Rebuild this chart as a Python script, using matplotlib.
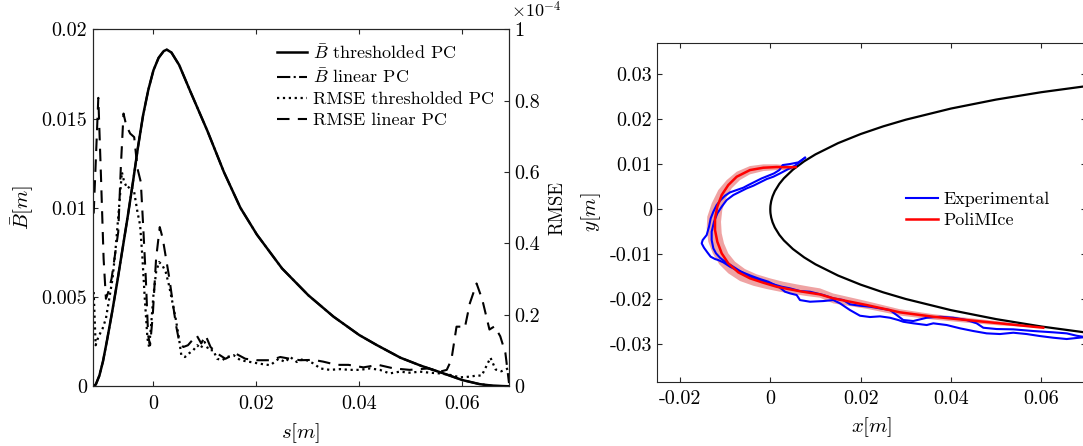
import numpy as np
import matplotlib
matplotlib.use("Agg")
import matplotlib.pyplot as plt

plt.rcParams['font.family'] = 'serif'
plt.rcParams['font.serif'] = ['cmr10']
plt.rcParams['mathtext.fontset'] = 'cm'
plt.rcParams['axes.unicode_minus'] = False
plt.rcParams['axes.formatter.use_mathtext'] = True
plt.rcParams['font.size'] = 14.5

# ---------------- left panel data ----------------
# mean ice thickness B-bar [m] along curvilinear abscissa s [m]
s_b = [-0.0118, -0.0112, -0.0105, -0.0098, -0.009, -0.008, -0.007, -0.006, -0.005,
       -0.004, -0.003, -0.002, -0.001, 0.0, 0.001, 0.002, 0.0026, 0.0035, 0.005,
       0.0072, 0.0105, 0.0137, 0.0169, 0.0201, 0.025, 0.0301, 0.035, 0.040, 0.0434,
       0.048, 0.052, 0.0563, 0.060, 0.0634, 0.066, 0.0691]
b_thresh = [0.0, 0.0001, 0.0006, 0.0014, 0.0026, 0.0042, 0.0059, 0.0077, 0.0095,
            0.0114, 0.0134, 0.0152, 0.0166, 0.0177, 0.0184, 0.01878, 0.01886, 0.0187,
            0.0180, 0.0165, 0.0143, 0.0120, 0.0100, 0.0085, 0.0066, 0.0051, 0.0039,
            0.00287, 0.00231, 0.0016, 0.00115, 0.00073, 0.00035, 0.00012, 0.00003, 0.0]
# linear PC mean lies on top of the thresholded one
b_linear = [0.0, 0.0001, 0.0006, 0.0014, 0.0026, 0.0042, 0.0059, 0.0077, 0.0095,
            0.0114, 0.0134, 0.0152, 0.0166, 0.0177, 0.0184, 0.01878, 0.01886, 0.0187,
            0.0180, 0.0165, 0.0143, 0.0120, 0.0100, 0.0085, 0.0066, 0.0051, 0.0039,
            0.00287, 0.00231, 0.0016, 0.00115, 0.00073, 0.00035, 0.00012, 0.00003, 0.0]

# RMSE, in units of 1e-4
s_rl = [-0.01161, -0.01071, -0.0102, -0.00968, -0.00923, -0.00877, -0.00813, -0.00748,
        -0.00684, -0.00632, -0.00581, -0.00529, -0.00452, -0.00374, -0.0031, -0.00245,
        -0.002, -0.00148, -0.00103, -0.00065, -0.00013, 0.00052, 0.00123, 0.00181,
        0.00245, 0.0031, 0.00374, 0.00439, 0.00503, 0.00581, 0.00671, 0.00755, 0.00839,
        0.00929, 0.01013, 0.0111, 0.01239, 0.014, 0.01594, 0.01787, 0.02013, 0.02271,
        0.02465, 0.02658, 0.02852, 0.0311, 0.033, 0.0356, 0.0379, 0.0408, 0.0437,
        0.0467, 0.0498, 0.0534, 0.0557, 0.057, 0.0579, 0.0589, 0.0599, 0.0605, 0.0615,
        0.0628, 0.0639, 0.0653, 0.0663, 0.0674, 0.0684, 0.0691]
rmse_lin = [0.484, 0.808, 0.591, 0.357, 0.245, 0.264, 0.302, 0.367, 0.432, 0.619, 0.764,
            0.731, 0.708, 0.698, 0.61, 0.572, 0.451, 0.302, 0.143, 0.115, 0.199, 0.358,
            0.446, 0.414, 0.358, 0.302, 0.236, 0.171, 0.124, 0.110, 0.115, 0.129, 0.143,
            0.12, 0.143, 0.110, 0.092, 0.077, 0.092, 0.077, 0.073, 0.073, 0.082, 0.077,
            0.073, 0.074, 0.069, 0.060, 0.060, 0.053, 0.060, 0.050, 0.046, 0.050, 0.041,
            0.046, 0.074, 0.167, 0.167, 0.163, 0.233, 0.288, 0.243, 0.159, 0.168, 0.14,
            0.093, 0.009]

s_rt = [-0.01161, -0.01123, -0.01071, -0.00987, -0.00923, -0.00858, -0.00794, -0.00729,
        -0.00665, -0.00613, -0.00568, -0.00503, -0.00439, -0.00374, -0.0031, -0.00258,
        -0.00213, -0.00168, -0.00116, -0.00084, -0.00045, 0.0, 0.00052, 0.0011, 0.00174,
        0.00239, 0.00303, 0.00368, 0.00432, 0.00497, 0.00542, 0.00613, 0.0069, 0.00774,
        0.00852, 0.00916, 0.00994, 0.01077, 0.01161, 0.01239, 0.01335, 0.01432, 0.01561,
        0.0169, 0.01884, 0.02077, 0.02271, 0.02432, 0.02561, 0.02658, 0.02787, 0.02916,
        0.0311, 0.0324, 0.0343, 0.0363, 0.0382, 0.0401, 0.0421, 0.044, 0.0459, 0.0479,
        0.0498, 0.0518, 0.0537, 0.0557, 0.0576, 0.0596, 0.0615, 0.0628, 0.0638, 0.0655,
        0.0665, 0.0676, 0.0691]
rmse_thr = [0.264, 0.115, 0.138, 0.162, 0.19, 0.246, 0.302, 0.395, 0.507, 0.60, 0.572,
            0.554, 0.563, 0.544, 0.488, 0.451, 0.358, 0.246, 0.134, 0.110, 0.171, 0.255,
            0.32, 0.348, 0.339, 0.32, 0.283, 0.236, 0.19, 0.134, 0.087, 0.082, 0.092,
            0.101, 0.115, 0.106, 0.124, 0.101, 0.101, 0.077, 0.073, 0.082, 0.087, 0.073,
            0.068, 0.063, 0.059, 0.077, 0.068, 0.082, 0.068, 0.077, 0.064, 0.050, 0.046,
            0.048, 0.046, 0.046, 0.050, 0.046, 0.036, 0.041, 0.038, 0.041, 0.038, 0.036,
            0.032, 0.025, 0.027, 0.030, 0.030, 0.080, 0.047, 0.042, 0.051]

# ---------------- right panel data ----------------
# airfoil leading edge (upper surface, mirrored for the lower one)
af_x = [0.0, 0.00002, 0.00005, 0.0002, 0.0005, 0.001, 0.002, 0.003, 0.005, 0.0075,
        0.01, 0.015, 0.02, 0.025, 0.03, 0.04, 0.05, 0.06, 0.07, 0.075]
af_y = [0.0, 0.00058, 0.00092, 0.001825, 0.002872, 0.004039, 0.005666, 0.006896,
        0.008812, 0.010678, 0.012215, 0.014713, 0.016734, 0.018443, 0.019926, 0.022401,
        0.024396, 0.026034, 0.02739, 0.027976]

poli_x = [0.0056, 0.00436, 0.00141, -0.00155, -0.0045, -0.00744, -0.0093, -0.01076,
          -0.01173, -0.01224, -0.01224, -0.01173, -0.01076, -0.0093, -0.00708, -0.0045,
          -0.00155, 0.00142, 0.00436, 0.00657, 0.00806, 0.011, 0.01395, 0.02134, 0.0287,
          0.03609, 0.04348, 0.05085, 0.05822, 0.06044]
poli_y = [0.0094, 0.00935, 0.0094, 0.00925, 0.00873, 0.00725, 0.0054, 0.00318, 0.00058,
          -0.002, -0.0046, -0.0072, -0.00978, -0.012, -0.014, -0.01533, -0.01631, -0.0172,
          -0.01778, -0.01820, -0.01844, -0.0189, -0.01978, -0.02127, -0.02289, -0.02387,
          -0.0246, -0.02533, -0.02609, -0.02631]

band_out_x = [0.00509, 0.00142, -0.00155, -0.0045, -0.00744, -0.00965, -0.01151, -0.01297,
              -0.01395, -0.01408, -0.01373, -0.01275, -0.01129, -0.0093, -0.00671, -0.00376,
              -0.0008, 0.00215, 0.00509, 0.00806, 0.011, 0.01395, 0.02134, 0.0287, 0.03609,
              0.04348, 0.05085, 0.05822, 0.0604]
band_out_y = [0.00969, 0.0100, 0.0100, 0.00962, 0.00836, 0.00651, 0.00429, 0.00133,
              -0.00164, -0.00422, -0.0072, -0.00978, -0.01222, -0.01422, -0.01593, -0.01698,
              -0.01771, -0.01831, -0.01882, -0.01927, -0.01964, -0.0209, -0.0221, -0.0236,
              -0.0245, -0.0252, -0.0258, -0.0262, -0.0263]
band_in_x = [0.00509, 0.00142, -0.00155, -0.0045, -0.00671, -0.00855, -0.00981, -0.01063,
             -0.01091, -0.01076, -0.01025, -0.0093, -0.00781, -0.0056, -0.00301, -0.00007,
             0.00288, 0.00584, 0.00879, 0.011, 0.01395, 0.02134, 0.0287, 0.03609, 0.04348,
             0.05085, 0.05822, 0.0604]
band_in_y = [0.00873, 0.00873, 0.00851, 0.00778, 0.00651, 0.00467, 0.00244, -0.00016,
             -0.00276, -0.00533, -0.00756, -0.00978, -0.01164, -0.01327, -0.01444, -0.01533,
             -0.01609, -0.01667, -0.0172, -0.01756, -0.0187, -0.0204, -0.0222, -0.0233,
             -0.0241, -0.0249, -0.0260, -0.0263]

exp1_x = [0.00768, 0.00621, 0.00436, 0.00274, 0.002, 0.00082, -0.00044, -0.00191, -0.00339,
          -0.00486, -0.00597, -0.00745, -0.00892, -0.01003, -0.01099, -0.01187, -0.01261,
          -0.0132, -0.01357, -0.01409, -0.01497, -0.01519, -0.01468, -0.01394, -0.0132,
          -0.01224, -0.01151, -0.0104, -0.00892, -0.00745, -0.00597, -0.00412, -0.00228,
          -0.00044, 0.00104, 0.00215, 0.00325, 0.00436, 0.00584, 0.00657, 0.00879, 0.01174,
          0.01395, 0.01543, 0.01764, 0.01986, 0.02207, 0.02429, 0.0265, 0.02834, 0.02944,
          0.03166, 0.03463, 0.03609, 0.03905, 0.042, 0.04494, 0.04791, 0.05085, 0.0538,
          0.05676, 0.05971, 0.06265, 0.06562, 0.06923]
exp1_y = [0.01147, 0.01044, 0.01007, 0.00984, 0.00873, 0.00799, 0.00747, 0.00688, 0.00614,
          0.0054, 0.00481, 0.00429, 0.00377, 0.00303, 0.00207, 0.00096, -0.00053, -0.00201,
          -0.00386, -0.00571, -0.00682, -0.00756, -0.00853, -0.00956, -0.01053, -0.01104,
          -0.01127, -0.01178, -0.01275, -0.01349, -0.01408, -0.01482, -0.01549, -0.01608,
          -0.01682, -0.01742, -0.0183, -0.01867, -0.01904, -0.02016, -0.02053, -0.02038,
          -0.02016, -0.02089, -0.02238, -0.02364, -0.02393, -0.02378, -0.02409, -0.0246,
          -0.02498, -0.02533, -0.02571, -0.02533, -0.02571, -0.02644, -0.02704, -0.02756,
          -0.02771, -0.02742, -0.02771, -0.02816, -0.02853, -0.02882, -0.02844]

exp2_x = [0.00768, 0.00547, 0.00399, 0.00215, 0.00067, -0.0008, -0.00228, -0.00376, -0.00523,
          -0.00671, -0.00818, -0.00966, -0.01077, -0.01173, -0.01246, -0.01298, -0.01298,
          -0.01261, -0.01202, -0.01114, -0.01003, -0.00855, -0.00671, -0.00486, -0.00302,
          -0.00117, 0.00067, 0.00252, 0.00436, 0.00657, 0.00879, 0.01174, 0.01395, 0.01616,
          0.01764, 0.01986, 0.02207, 0.02429, 0.0265, 0.02798, 0.02944, 0.03166, 0.03463,
          0.03757, 0.04051, 0.04348, 0.04569, 0.04716, 0.05012, 0.0538, 0.05822, 0.06265,
          0.06562, 0.06783, 0.06923]
exp2_y = [0.01147, 0.0097, 0.00896, 0.00799, 0.00725, 0.00673, 0.00599, 0.00525, 0.00466,
          0.00392, 0.00318, 0.00207, 0.00058, -0.0009, -0.00275, -0.00497, -0.00682, -0.00867,
          -0.00978, -0.01075, -0.01164, -0.01253, -0.01371, -0.01475, -0.01549, -0.01608,
          -0.01667, -0.01719, -0.01756, -0.01816, -0.01831, -0.01904, -0.01978, -0.02016,
          -0.02111, -0.02142, -0.02164, -0.022, -0.02238, -0.02349, -0.0246, -0.02482,
          -0.02409, -0.02387, -0.02409, -0.0246, -0.02533, -0.02631, -0.0266, -0.02667,
          -0.02704, -0.02733, -0.02756, -0.02809, -0.02831]

axcol = '#262626'
fig = plt.figure(figsize=(10.83, 4.46), dpi=100)

# ---------------- left panel ----------------
ax = fig.add_axes([0.0856, 0.1339, 0.3844, 0.8004])
ax2 = ax.twinx()
l1, = ax.plot(s_b, b_thresh, '-', color='k', lw=1.8, label=r'$\bar{B}$ thresholded PC')
l2, = ax.plot(s_b, b_linear, '-.', color='k', lw=1.5, label=r'$\bar{B}$ linear PC')
l3, = ax2.plot(s_rt, rmse_thr, ':', color='k', lw=1.6, label='RMSE thresholded PC')
l4, = ax2.plot(s_rl, rmse_lin, '--', color='k', lw=1.5, dashes=(6, 4),
               label='RMSE linear PC')
ax.set_xlim(-0.0118, 0.0691)
ax.set_ylim(0, 0.02)
ax2.set_ylim(0, 1)
ax.set_xticks([0, 0.02, 0.04, 0.06])
ax.set_xticklabels(['0', '0.02', '0.04', '0.06'])
ax.set_yticks([0, 0.005, 0.01, 0.015, 0.02])
ax.set_yticklabels(['0', '0.005', '0.01', '0.015', '0.02'])
ax2.set_yticks([0, 0.2, 0.4, 0.6, 0.8, 1])
ax2.set_yticklabels(['0', '0.2', '0.4', '0.6', '0.8', '1'])
ax.tick_params(axis='x', direction='in', length=3.5, top=True, colors=axcol,
               labelcolor='k', pad=6)
ax.tick_params(axis='y', direction='in', length=3.5, colors=axcol, labelcolor='k', pad=4)
ax2.tick_params(direction='in', length=3.5, colors=axcol, labelcolor='k', pad=3.5)
ax.set_xlabel(r'$s[m]$', fontsize=15)
ax.xaxis.set_label_coords(0.5, -0.097)
ax.set_ylabel(r'$\bar{B}[m]$', fontsize=15)
ax.yaxis.set_label_coords(-0.136, 0.5)
ax2.set_ylabel('RMSE', fontsize=13.5)
ax2.yaxis.set_label_coords(1.094, 0.5)
ax2.text(1.005, 1.032, r'$\times10^{-4}$', transform=ax.transAxes, ha='left',
         va='baseline', fontsize=13)
for a in (ax, ax2):
    for sp in a.spines.values():
        sp.set_color(axcol)
        sp.set_linewidth(0.8)
ax2.legend(handles=[l1, l2, l3, l4], loc='upper left', bbox_to_anchor=(0.443, 0.962),
           frameon=False, borderaxespad=0, borderpad=0, handlelength=1.66,
           handletextpad=0.33, labelspacing=0.3, fontsize=13)

# ---------------- right panel ----------------
bx = fig.add_axes([0.607, 0.1442, 0.3962, 0.7587])
bx.fill(band_out_x + band_in_x[::-1], band_out_y + band_in_y[::-1],
        color='#efa3a3', lw=0, zorder=1)
af_yy = np.array(af_y)
bx.plot(np.r_[af_x[::-1], af_x[1:]], np.r_[af_yy[::-1], -af_yy[1:]], color='k',
        lw=1.6, zorder=2)
bx.plot(exp1_x, exp1_y, color='#0000ff', lw=1.5, zorder=3, label='Experimental')
bx.plot(exp2_x, exp2_y, color='#0000ff', lw=1.5, zorder=3)
bx.plot(poli_x, poli_y, color='#ff0000', lw=1.8, zorder=4, label='PoliMIce')
bx.set_xlim(-0.025, 0.07)
bx.set_ylim(-0.0383, 0.0369)
bx.set_xticks([-0.02, 0, 0.02, 0.04, 0.06])
bx.set_xticklabels(['-0.02', '0', '0.02', '0.04', '0.06'])
bx.set_yticks([-0.03, -0.02, -0.01, 0, 0.01, 0.02, 0.03])
bx.set_yticklabels(['-0.03', '-0.02', '-0.01', '0', '0.01', '0.02', '0.03'])
bx.tick_params(axis='x', direction='in', length=3.5, top=True, colors=axcol,
               labelcolor='k', pad=6)
bx.tick_params(axis='y', direction='in', length=3.5, right=True, colors=axcol,
               labelcolor='k', pad=4)
for sp in bx.spines.values():
    sp.set_color(axcol)
    sp.set_linewidth(0.8)
bx.set_xlabel(r'$x[m]$', fontsize=15)
bx.xaxis.set_label_coords(0.5, -0.098)
bx.set_ylabel(r'$y[m]$', fontsize=15)
bx.yaxis.set_label_coords(-0.126, 0.5)
bx.legend(loc='upper left', bbox_to_anchor=(0.579, 0.562), frameon=False,
          borderaxespad=0, borderpad=0, handlelength=1.78, handletextpad=0.28,
          labelspacing=0.3, fontsize=13)

fig.savefig('out.png', dpi=100)
